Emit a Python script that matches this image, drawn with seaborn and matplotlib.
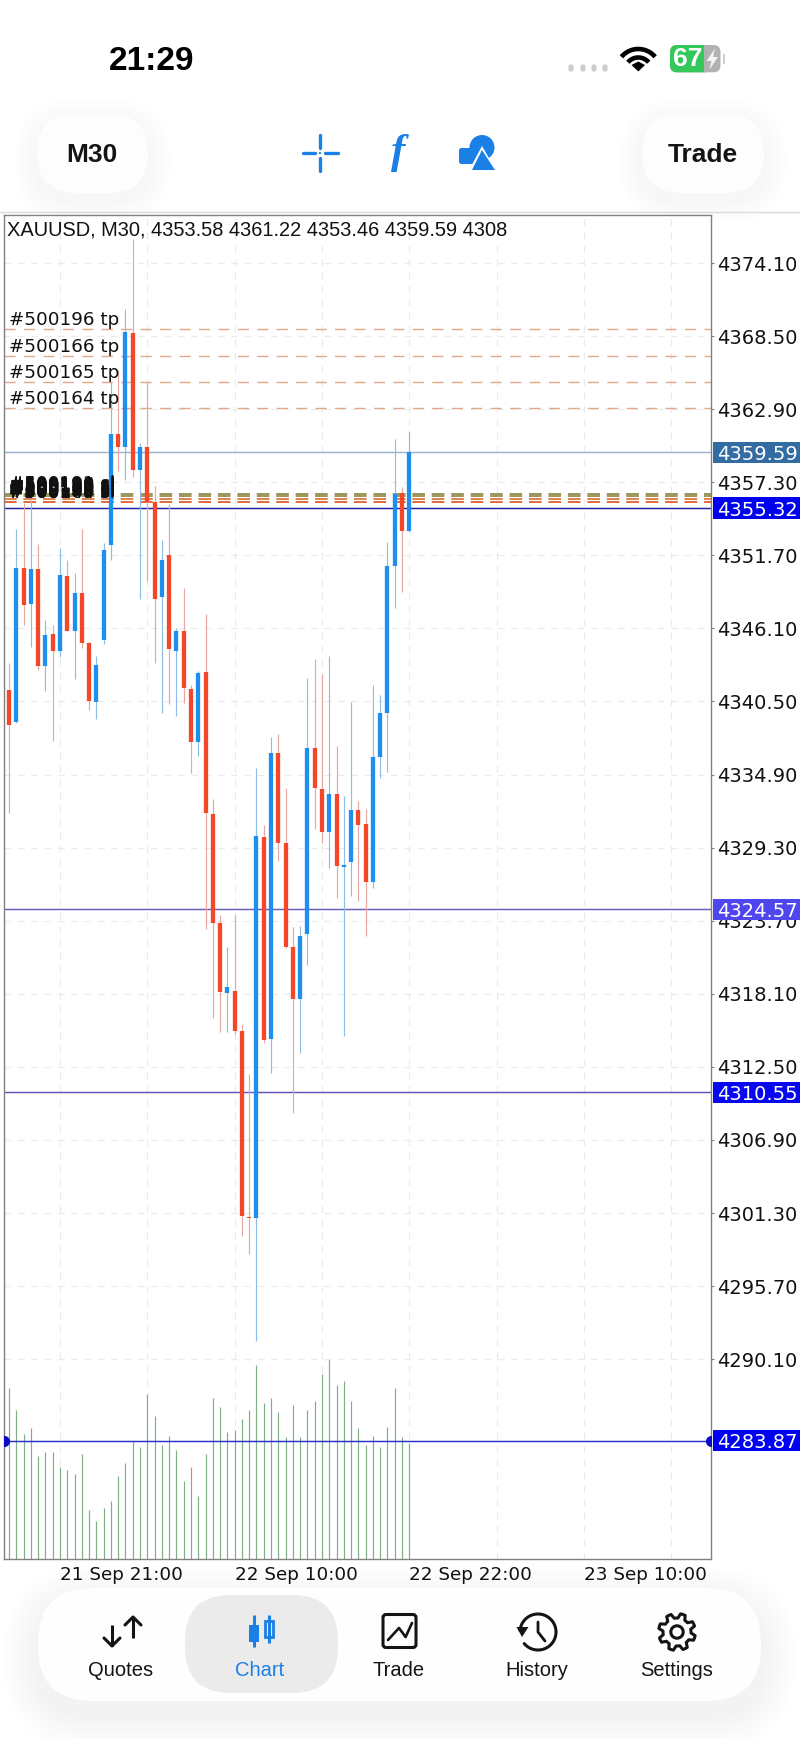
import numpy as np
import pandas as pd
import matplotlib
matplotlib.use("Agg")
import matplotlib.pyplot as plt
import seaborn as sns
from matplotlib.patches import FancyBboxPatch, Rectangle, Polygon, Circle
from matplotlib.transforms import blended_transform_factory

sns.set_theme(style="white")
plt.rcParams['font.family'] = ['DejaVu Sans']

# ---- data ----
opens = [4341.38, 4338.90, 4350.75, 4347.95, 4350.63, 4343.22, 4345.65, 4344.37, 4350.11, 4345.92,
         4348.79, 4345.00, 4340.44, 4345.21, 4352.49, 4360.97, 4359.98, 4368.74, 4358.24, 4359.98,
         4355.76, 4348.53, 4351.72, 4344.37, 4345.88, 4341.46, 4337.37, 4342.74, 4331.88, 4323.50,
         4318.18, 4318.34, 4315.23, 4301.02, 4300.90, 4330.11, 4314.63, 4336.57, 4329.63, 4321.66,
         4317.70, 4322.66, 4336.91, 4333.79, 4330.52, 4333.41, 4327.82, 4328.22, 4332.18, 4331.08,
         4326.69, 4336.22, 4339.59, 4350.88, 4356.45, 4353.58]
highs = [4343.47, 4353.69, 4355.69, 4355.94, 4352.54, 4346.74, 4346.36, 4352.28, 4351.34, 4350.32,
         4353.72, 4345.08, 4343.98, 4352.62, 4365.00, 4365.90, 4370.55, 4375.92, 4360.28, 4365.00,
         4357.01, 4352.87, 4355.63, 4346.11, 4349.17, 4341.76, 4342.86, 4347.20, 4333.00, 4324.14,
         4321.66, 4324.14, 4315.78, 4311.95, 4335.43, 4331.03, 4337.75, 4337.98, 4333.85, 4323.24,
         4323.29, 4342.28, 4343.75, 4342.61, 4343.98, 4337.09, 4333.26, 4340.48, 4332.90, 4332.24,
         4341.74, 4341.00, 4352.74, 4360.61, 4356.96, 4361.22]
lows = [4331.98, 4338.85, 4346.36, 4344.70, 4342.91, 4341.33, 4337.47, 4343.93, 4345.88, 4342.20,
        4344.57, 4339.85, 4339.16, 4344.90, 4351.34, 4358.18, 4357.47, 4357.72, 4348.33, 4349.75,
        4343.42, 4339.59, 4340.31, 4339.39, 4340.41, 4335.00, 4336.34, 4323.04, 4316.22, 4315.15,
        4315.19, 4314.99, 4299.54, 4298.16, 4291.49, 4314.30, 4312.01, 4328.28, 4321.60, 4308.99,
        4313.59, 4320.31, 4330.73, 4329.68, 4327.72, 4325.42, 4314.89, 4325.62, 4325.23, 4322.53,
        4326.18, 4334.66, 4335.07, 4347.64, 4348.91, 4353.46]
closes = [4338.70, 4350.70, 4347.89, 4350.63, 4343.22, 4345.59, 4344.37, 4350.19, 4345.92, 4348.84,
          4345.00, 4340.51, 4343.29, 4352.11, 4360.97, 4359.98, 4368.79, 4358.24, 4359.98, 4355.76,
          4348.33, 4351.34, 4344.50, 4345.92, 4341.51, 4337.42, 4342.71, 4331.98, 4323.50, 4318.21,
          4318.60, 4315.27, 4301.07, 4300.90, 4330.19, 4314.56, 4336.57, 4329.63, 4321.71, 4317.70,
          4322.53, 4336.91, 4333.85, 4330.47, 4333.39, 4327.89, 4327.95, 4332.18, 4331.06, 4326.69,
          4336.22, 4339.64, 4350.88, 4356.38, 4353.56, 4359.59]
volumes = [6320, 5518, 4629, 4839, 3827, 3950, 3950, 3419, 3284, 3148, 3888, 1802, 1395, 1876, 2148,
           3086, 3555, 4382, 4160, 6110, 5308, 4234, 4567, 4037, 2889, 3419, 2345, 3888, 5975, 5641,
           4703, 4777, 5172, 5518, 7184, 5789, 5975, 5444, 4506, 5703, 4506, 5518, 5851, 6851, 7394,
           6456, 6579, 5851, 4839, 4234, 4567, 4160, 4901, 6320, 4506, 4308]

price_ticks = [4374.10, 4368.50, 4362.90, 4357.30, 4351.70, 4346.10, 4340.50, 4334.90,
               4329.30, 4323.70, 4318.10, 4312.50, 4306.90, 4301.30, 4295.70, 4290.10]
time_ticks = [7, 31, 55, 79]
time_labels = ["21 Sep 21:00", "22 Sep 10:00", "22 Sep 22:00", "23 Sep 10:00"]
minor_time_ticks = [19, 43, 67, 91]

tp_labels = ["#500196 tp", "#500166 tp", "#500165 tp", "#500164 tp"]
tp_prices = [4369.02, 4367.00, 4365.00, 4362.99]
sl_labels = ["#500196 sl", "#500166 sl", "#500165 sl", "#500164 sl",
             "#500193 sl", "#500187 sl", "#500175 sl", "#500158 sl",
             "#500191 sl", "#500182 sl", "#500179 sl", "#500153 sl",
             "#500198 sl", "#500180 sl", "#500172 sl", "#500149 sl"]
sl_prices = [4356.40, 4356.25, 4355.99, 4355.81, 4356.35, 4356.10, 4355.90, 4356.30,
             4356.45, 4356.18, 4355.85, 4356.05, 4355.95, 4356.38, 4356.22, 4355.78]
sl_line_prices = [4356.40, 4356.25, 4355.99, 4355.81]
sl_line_colors = ["#8E9A5A", "#A89058", "#D9854E", "#E4693A"]

level_prices = [4359.59, 4355.32, 4324.57, 4310.55, 4283.87]
level_line_colors = ["#9DB3CE", "#1E1EA8", "#6A5CBB", "#5F54B8", "#2A30C8"]
level_tag_colors = ["#336CA3", "#0000F0", "#4F46EE", "#0808F0", "#0000F2"]

BLUE, RED = "#1E8FEF", "#F4472A"
BLUE_WICK, RED_WICK = "#8DBDE4", "#E5A9A1"
UI_BLUE = "#1A80E5"
INK = "#141414"

# ---- long tables for seaborn ----
bars = np.arange(len(opens))
candles = pd.DataFrame({"bar": bars, "open": opens, "high": highs, "low": lows, "close": closes})
candles["side"] = np.where(candles["close"] >= candles["open"], "up", "down")
wicks = candles.melt(id_vars=["bar", "side"], value_vars=["high", "low"], value_name="price")
bodies = candles.melt(id_vars=["bar", "side"], value_vars=["open", "close"], value_name="price")
vol = pd.DataFrame({"bar": bars, "zero": 0, "top": volumes}).melt(id_vars="bar", value_name="volume")

W, H = 800, 1739
fig = plt.figure(figsize=(W / 100, H / 100), dpi=100, facecolor="white")

# full page layer in screen pixels, for the phone UI
back = fig.add_axes([0, 0, 1, 1], zorder=0)
front = fig.add_axes([0, 0, 1, 1], zorder=5)
for a in (back, front):
    a.set_xlim(0, W)
    a.set_ylim(H, 0)
    a.axis("off")
    a.patch.set_visible(False)


def blob(a, x0, y0, x1, y1, r, color, **kw):
    p = FancyBboxPatch((x0, y0), x1 - x0, y1 - y0, boxstyle=f"round,pad=0,rounding_size={r}",
                       fc=color, ec="none", **kw)
    a.add_patch(p)
    return p


def soft_shadow(a, x0, y0, x1, y1, r, drop, spread, alpha):
    for k in range(spread, 0, -3):
        blob(a, x0 - k, y0 - k + drop, x1 + k, y1 + k + drop, r + k, "black", alpha=alpha)


# top buttons
soft_shadow(back, 37, 113, 148, 193, 40, 8, 24, 0.0022)
soft_shadow(back, 642, 113, 764, 193, 40, 8, 24, 0.0022)
blob(back, 37, 113, 148, 193, 40, "#FDFDFD")
blob(back, 642, 113, 764, 193, 40, "#FDFDFD")
# bottom nav pill
soft_shadow(back, 38, 1588, 761, 1701, 55, 14, 36, 0.0028)
blob(back, 38, 1588, 761, 1701, 55, "#FEFEFE")
blob(back, 185, 1595, 338, 1693, 46, "#EBEBEB")
back.plot([0, W], [211.7, 211.7], color="#DADADA", lw=1)

# ---- chart ----
ax_vol = fig.add_axes([4 / W, 1 - 1559 / H, 707 / W, 1344 / H], zorder=1)
ax_vol.set_facecolor("white")
sns.lineplot(data=vol, x="bar", y="volume", units="bar", estimator=None, sort=False,
             color="#7FAF85", lw=0.85, solid_capstyle="butt", zorder=3, ax=ax_vol)
ax_vol.set_ylim(0, 49770)
ax_vol.set_xlim(-0.687, 96.45)
ax_vol.set_xlabel("")
ax_vol.set_ylabel("")
ax_vol.set_yticks([])
ax_vol.set_xticks(time_ticks + minor_time_ticks)
ax_vol.tick_params(axis="x", length=0, labelbottom=False)
ax_vol.grid(True, axis="x", color="#EAEAEA", lw=0.8, dashes=(6, 6))
ax_vol.set_axisbelow(True)
for s in ax_vol.spines.values():
    s.set_visible(False)

ax = fig.add_axes([4 / W, 1 - 1559 / H, 707 / W, 1344 / H], zorder=2)
ax.patch.set_visible(False)

for p in tp_prices:
    ax.axhline(p, color="#E2A88A", lw=1.0, dashes=(8, 6), zorder=1.5)
for p, c in zip(sl_line_prices, sl_line_colors):
    ax.axhline(p, color=c, lw=1.4, dashes=(6.5, 3.5), zorder=1.5)
for p, c in zip(level_prices, level_line_colors):
    ax.axhline(p, color=c, lw=1.05, zorder=1.6)

sns.lineplot(data=wicks, x="bar", y="price", units="bar", hue="side", estimator=None, sort=False,
             palette={"up": BLUE_WICK, "down": RED_WICK}, lw=0.85, solid_capstyle="butt",
             legend=False, zorder=2, ax=ax)
sns.lineplot(data=bodies, x="bar", y="price", units="bar", hue="side", estimator=None, sort=False,
             palette={"up": BLUE, "down": RED}, lw=3.1, solid_capstyle="butt",
             legend=False, zorder=3, ax=ax)

ax.set_xlim(-0.687, 96.45)
ax.set_ylim(4274.79, 4377.78)
ax.set_xlabel("")
ax.set_ylabel("")
ax.set_yticks(price_ticks)
ax.set_yticklabels([f"{v:.2f}" for v in price_ticks])
ax.yaxis.tick_right()
ax.set_xticks(time_ticks)
ax.set_xticklabels(time_labels, ha="left")
ax.tick_params(axis="y", length=2.2, width=0.8, color="#808080", pad=2, labelsize=14, labelcolor="#111111")
ax.tick_params(axis="x", which="major", length=2.2, width=0.8, color="#808080", pad=3, labelsize=13.2,
               labelcolor="#111111")
ax.grid(True, axis="y", color="#EAEAEA", lw=0.8, dashes=(6, 6))
ax.set_axisbelow(True)
for s in ax.spines.values():
    s.set_visible(True)
    s.set_color("#808080")
    s.set_linewidth(1.0)

ax.text(0.0042, 0.9888, "XAUUSD, M30, 4353.58 4361.22 4353.46 4359.59 4308", transform=ax.transAxes,
        family="Liberation Sans", fontsize=14.4, va="center", ha="left", color="#111111")

yax = ax.get_yaxis_transform()
for lab, p in zip(tp_labels, tp_prices):
    ax.annotate(lab, (0, p), xycoords=yax, xytext=(3.6, 2.9), textcoords="offset points",
                fontsize=13.2, color="#111111", va="baseline", zorder=6)
for lab, p in zip(sl_labels, sl_prices):
    ax.annotate(lab, (0, p), xycoords=yax, xytext=(3.6, 2.9), textcoords="offset points",
                fontsize=13.2, color="#111111", va="baseline", zorder=6)

# price tags on the right edge
tag_tr = blended_transform_factory(ax.transAxes, ax.transData)
for p, c in zip(level_prices, level_tag_colors):
    ax.add_patch(Rectangle((1.0025, p - 0.82), 0.13, 1.64, transform=tag_tr, fc=c, ec="none",
                           clip_on=False, zorder=10))
    ax.text(1.0085, p, f"{p:.2f}", transform=tag_tr, color="white", fontsize=14, va="center_baseline",
            ha="left", clip_on=False, zorder=11)
ax.plot([0, 1], [level_prices[-1]] * 2, transform=yax, ls="", marker="o", ms=7, color="#0A0AC8", zorder=4)

# ---- status bar ----
front.text(152, 62, "21:29", family="Liberation Sans", weight="bold", fontsize=24, ha="center",
           va="center", color="black")
for x in (571, 583, 594, 605):
    blob(front, x - 2.5, 64.5, x + 2.5, 71.5, 2, "#CDCDCD")
t = np.radians(np.linspace(40, 140, 30))
for r in (22, 13.5):
    front.plot(638.3 + r * np.cos(t), 71 - r * np.sin(t), color="black", lw=3.3, solid_capstyle="butt")
front.add_patch(Polygon([(638.3, 71.5), (631.5, 65), (638.3, 61.5), (645, 65)], fc="black", ec="none"))
blob(front, 670, 45, 720.5, 72.3, 7, "#B2B2B2")
blob(front, 670, 45, 712, 72.3, 7, "#34C759")
front.add_patch(Rectangle((704, 45), 8, 27.3, fc="#B2B2B2", ec="none"))
front.add_patch(Rectangle((722.5, 54), 2, 10, fc="#CFCFCF", ec="none"))
front.text(687.5, 59.5, "67", family="Liberation Sans", weight="bold", fontsize=19, color="white",
           ha="center", va="center")
front.add_patch(Polygon([(715, 48.5), (706.5, 61), (711.5, 61), (709.5, 69.5), (718, 57), (713, 57)],
                        fc="#F4F4F4", ec="none"))

# ---- toolbar ----
front.text(92, 155, "M30", family="Liberation Sans", weight="bold", fontsize=19, ha="center", va="center", color=INK)
front.text(702.5, 155, "Trade", family="Liberation Sans", weight="bold", fontsize=19, ha="center", va="center", color=INK)
for seg in ([(302.5, 153), (315, 153)], [(325, 153), (338, 153)], [(320, 135), (320, 148)], [(320, 158), (320, 171)]):
    front.plot(*zip(*seg), color=UI_BLUE, lw=2.4, solid_capstyle="round")
front.add_patch(Circle((320, 153), 1.1, fc=UI_BLUE, ec="none"))
front.text(398, 153, "f", family="Liberation Serif", style="italic", weight="bold", fontsize=31, color=UI_BLUE,
           ha="center", va="center")
blob(front, 459, 148, 477, 164, 2.5, UI_BLUE)
front.add_patch(Circle((482, 147.5), 12.5, fc=UI_BLUE, ec="none"))
front.add_patch(Polygon([(482, 146), (468, 172), (497, 172)], fc="white", ec="none"))
front.add_patch(Polygon([(482, 150), (472, 170), (495, 170)], fc=UI_BLUE, ec="none"))

# ---- bottom nav ----
for x, lab, c in zip((121, 260, 399, 537, 677), ("Quotes", "Chart", "Trade", "History", "Settings"),
                     (INK, UI_BLUE, INK, INK, INK)):
    front.text(x, 1670, lab, family="Liberation Sans", fontsize=14.5, ha="center", va="center", color=c)

# quotes arrows
front.plot([112, 112], [1625, 1646], color=INK, lw=2.2, solid_capstyle="butt")
front.plot([104, 112, 120], [1638, 1646, 1638], color=INK, lw=2.2)
front.plot([133, 133], [1617, 1638], color=INK, lw=2.2, solid_capstyle="butt")
front.plot([125, 133, 141], [1625, 1617, 1625], color=INK, lw=2.2)
# chart candles
front.plot([253.6, 253.6], [1615, 1647], color=UI_BLUE, lw=2.2, solid_capstyle="butt")
front.add_patch(Rectangle((248.5, 1625), 10.2, 17, fc=UI_BLUE, ec="none"))
front.plot([269, 269], [1615, 1643], color=UI_BLUE, lw=2.2, solid_capstyle="butt")
front.add_patch(Rectangle((265, 1621), 8, 16, fc="#EBEBEB", ec=UI_BLUE, lw=2))
# trade tile
p = FancyBboxPatch((383, 1614.5), 33, 33, boxstyle="round,pad=0,rounding_size=3", fc="none", ec=INK, lw=2.2)
front.add_patch(p)
front.plot([388, 399, 405.6, 412], [1640, 1628, 1637, 1623], color=INK, lw=1.9)
# history clock, gap on the lower left
t = np.radians(np.linspace(175, -140, 80))
front.plot(538 + 18 * np.cos(t), 1632 - 18 * np.sin(t), color=INK, lw=2.2)
front.add_patch(Polygon([(516.5, 1627), (528.5, 1627), (522, 1637)], fc=INK, ec="none"))
front.plot([538, 538, 545], [1622, 1632, 1641], color=INK, lw=2.0)
# settings gear
ang = np.radians(np.arange(0, 360, 360 / 48) + 22.5 / 2)
tooth = np.tile([1, 1, 1, 0, 0, 0], 8)
rad = np.where(tooth == 1, 18.5, 14)
front.add_patch(Polygon(np.c_[677 + rad * np.cos(ang), 1632 + rad * np.sin(ang)], closed=True, fc="none",
                        ec=INK, lw=2.2, joinstyle="round"))
front.add_patch(Circle((677, 1632), 6.2, fc="none", ec=INK, lw=2.2))

fig.savefig("out.png", dpi=100, facecolor="white")
